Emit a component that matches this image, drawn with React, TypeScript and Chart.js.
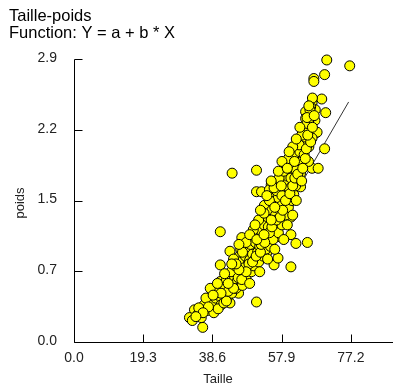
import React, { useEffect, useRef } from "react";
import { Chart, registerables } from "chart.js";

Chart.register(...registerables);

const titleLines = ["Taille-poids", "Function: Y = a + b * X"];
const xAxisTitle = "Taille";
const yAxisTitle = "poids";

const xTickValues = [0, 19.3, 38.6, 57.9, 77.2];
const xTickLabels = ["0.0", "19.3", "38.6", "57.9", "77.2"];
const yTickValues = [0, 0.725, 1.45, 2.175, 2.9];
const yTickLabels = ["0.0", "0.7", "1.5", "2.2", "2.9"];
const xMin = 0;
const xMax = 87.3;
const yMin = 0;
const yMax = 2.9;

const taille = [
  70.5, 76.9, 66.9, 66.9, 69.9, 69.1, 66.4, 67.3, 64.6, 70.2, 66.0, 64.6, 67.2, 64.1, 65.5, 67.3, 66.4, 67.8, 65.5, 69.9,
  61.9, 65.1, 66.4, 61.4, 59.6, 63.7, 66.4, 68.1, 60.5, 62.7, 65.4, 59.1, 57.2, 59.1, 61.3, 63.2, 44.1, 50.9, 55.0, 56.9,
  58.2, 61.3, 61.0, 63.2, 50.9, 52.3, 54.5, 52.8, 55.5, 58.2, 60.5, 53.1, 55.8, 55.5, 58.6, 59.9, 40.8, 50.9, 53.1, 56.4,
  57.2, 54.5, 60.5, 61.9, 65.1, 46.8, 49.5, 52.8, 53.7, 55.8, 56.9, 60.5, 43.5, 45.9, 47.3, 50.0, 48.6, 50.9, 40.8, 43.2,
  44.9, 47.3, 45.9, 41.8, 40.8, 40.4, 40.8, 43.5, 50.9, 38.1, 39.1, 36.3, 33.6, 34.5, 32.2, 35.9,
  38.5, 39.5, 41.2, 42.0, 42.8, 41.5, 43.5, 44.2, 42.5, 44.8, 45.5, 46.2, 43.8, 45.0, 46.8, 47.5, 48.2, 46.0, 47.8, 49.0,
  48.5, 49.8, 50.5, 51.2, 49.2, 50.6, 51.8, 52.5, 51.0, 52.2, 53.4, 54.0, 53.0, 54.2, 55.0, 55.6, 54.0, 55.2, 56.2, 56.8,
  57.5, 56.0, 57.0, 58.0, 58.8, 57.6, 56.5, 59.2, 60.0, 58.5, 59.5, 60.5, 61.0, 60.0, 62.0, 62.2, 61.5, 63.0, 63.8, 62.8,
  64.5, 65.0, 63.5, 66.0, 65.8, 44.0, 45.2, 47.0, 48.0, 49.5, 50.2, 51.5, 52.8, 53.5, 54.8, 55.5, 57.0, 58.0, 59.0, 59.8,
  60.8, 61.8, 62.5, 63.5, 64.2, 41.0, 39.8, 42.0, 44.5, 46.5, 48.0, 50.0, 51.5, 53.0, 54.5, 55.8, 57.2, 58.5, 59.8, 61.0,
  37.0, 35.5, 33.0, 34.8, 36.8, 38.0, 40.0,
  39.0, 40.2, 41.8, 42.5, 43.0, 44.5, 45.8, 46.8, 47.5, 48.8, 49.8, 50.8, 52.0, 52.2, 53.2, 54.5, 55.2, 56.5, 57.5, 58.2,
  58.0, 59.0, 60.2, 61.0, 61.6, 62.4, 63.8, 64.5, 64.8, 66.0, 65.2, 66.5, 63.0, 65.0, 67.0, 66.5, 65.5, 48.0, 46.0, 45.2,
  47.0, 49.0, 50.5, 52.0, 53.8, 55.0, 57.0, 58.0, 60.0, 62.0, 51.0, 53.0, 55.0, 56.0, 57.8, 59.5, 61.5, 43.0, 41.0, 38.8,
  37.5, 36.0, 34.0, 44.0, 46.0, 49.0, 51.8, 54.0, 56.0, 58.5, 59.5, 61.0, 62.0, 63.5,
];
const poids = [
  2.89, 2.83, 2.70, 2.67, 2.74, 2.49, 2.45, 2.38, 2.36, 2.35, 2.41, 2.29, 2.27, 2.19, 2.17, 2.14, 2.11, 2.15, 2.00, 1.98,
  1.97, 2.02, 2.09, 1.86, 1.81, 1.81, 1.78, 1.78, 1.85, 1.83, 1.85, 1.81, 1.66, 1.71, 1.73, 1.73, 1.73, 1.76, 1.61, 1.63,
  1.59, 1.51, 1.63, 1.59, 1.54, 1.54, 1.56, 1.27, 1.32, 1.28, 1.28, 1.40, 1.44, 1.48, 1.44, 1.49, 1.13, 1.17, 1.15, 1.15,
  1.08, 1.08, 1.10, 1.01, 1.02, 1.07, 1.05, 0.99, 0.91, 0.79, 0.86, 0.77, 0.93, 0.87, 0.81, 0.74, 0.87, 0.94, 0.79, 0.67,
  0.74, 0.62, 0.50, 0.53, 0.62, 0.48, 0.41, 0.40, 0.41, 0.42, 0.36, 0.38, 0.33, 0.28, 0.25, 0.15,
  0.40, 0.45, 0.44, 0.50, 0.46, 0.56, 0.55, 0.60, 0.63, 0.66, 0.62, 0.70, 0.72, 0.78, 0.75, 0.70, 0.78, 0.82, 0.88, 0.84,
  0.95, 0.90, 0.85, 0.92, 1.00, 1.02, 0.98, 1.05, 1.10, 1.14, 1.08, 1.02, 1.20, 1.18, 1.12, 1.22, 1.28, 1.35, 1.30, 1.22,
  1.35, 1.42, 1.48, 1.40, 1.52, 1.56, 1.55, 1.60, 1.58, 1.65, 1.70, 1.68, 1.78, 1.80, 1.76, 1.90, 1.92, 1.95, 2.05, 2.02,
  2.10, 2.24, 2.12, 2.30, 2.38, 0.50, 0.55, 0.58, 0.65, 0.72, 0.78, 0.82, 0.88, 0.95, 0.98, 1.05, 1.12, 1.20, 1.30, 1.38,
  1.45, 1.60, 1.68, 1.85, 1.92, 0.38, 0.52, 0.70, 0.85, 0.95, 1.02, 1.15, 1.25, 1.32, 1.45, 1.58, 1.68, 1.75, 1.88, 2.00,
  0.32, 0.25, 0.22, 0.35, 0.45, 0.55, 0.60,
  0.30, 0.34, 0.40, 0.42, 0.52, 0.55, 0.66, 0.64, 0.76, 0.80, 0.82, 0.88, 0.92, 1.00, 1.02, 1.12, 1.18, 1.25, 1.28, 1.35,
  1.50, 1.45, 1.52, 1.60, 1.68, 1.72, 1.78, 1.88, 1.98, 2.05, 2.12, 2.20, 2.20, 2.30, 2.32, 2.50, 2.42, 0.72, 0.74, 0.80,
  0.92, 1.10, 1.20, 1.35, 1.50, 1.65, 1.75, 1.85, 1.95, 2.08, 1.05, 1.10, 1.25, 1.38, 1.60, 1.78, 1.85, 0.60, 0.50, 0.48,
  0.36, 0.30, 0.26, 0.80, 1.00, 0.60, 0.72, 0.85, 0.95, 1.05, 1.20, 1.30, 1.45, 1.65,
];

const fitX = [48, 76.6];
const fitY = [0.65, 2.46];

const FONT = "'Liberation Sans', Arial, sans-serif";

const customAxes = {
  id: "customAxes",
  beforeDatasetsDraw(chart: any) {
    const ctx = chart.ctx;
    const xs = chart.scales.x;
    const ys = chart.scales.y;
    const x0 = Math.round(xs.getPixelForValue(xMin)) + 0.5;
    const y0 = Math.round(ys.getPixelForValue(yMin)) + 0.5;
    const yTop = Math.round(ys.getPixelForValue(yMax)) + 0.5;
    ctx.save();
    ctx.strokeStyle = "#000";
    ctx.lineWidth = 1;
    ctx.beginPath();
    ctx.moveTo(x0, yTop);
    ctx.lineTo(x0, y0);
    ctx.lineTo(chart.width, y0);
    yTickValues.forEach((v) => {
      const py = Math.round(ys.getPixelForValue(v)) + 0.5;
      ctx.moveTo(x0, py);
      ctx.lineTo(x0 + 8, py);
    });
    xTickValues.forEach((v) => {
      const px = Math.round(xs.getPixelForValue(v)) + 0.5;
      ctx.moveTo(px, y0);
      ctx.lineTo(px, y0 - 8);
    });
    ctx.stroke();
    ctx.restore();
  },
  afterDraw(chart: any) {
    const ctx = chart.ctx;
    const xs = chart.scales.x;
    const ys = chart.scales.y;
    ctx.save();
    ctx.fillStyle = "#000";
    ctx.font = `16.5px ${FONT}`;
    ctx.textAlign = "left";
    ctx.textBaseline = "alphabetic";
    ctx.fillText(titleLines[0], 9, 21);
    ctx.fillText(titleLines[1], 9, 38);
    ctx.fillStyle = "#222";
    ctx.font = `14px ${FONT}`;
    ctx.textAlign = "right";
    ctx.textBaseline = "middle";
    yTickValues.forEach((v, i) => {
      ctx.fillText(yTickLabels[i], 57, ys.getPixelForValue(v) - 1);
    });
    ctx.textAlign = "center";
    xTickValues.forEach((v, i) => {
      ctx.fillText(xTickLabels[i], xs.getPixelForValue(v), 358);
    });
    ctx.font = `13px ${FONT}`;
    ctx.fillText(xAxisTitle, 218, 379);
    ctx.translate(20, 203);
    ctx.rotate(-Math.PI / 2);
    ctx.fillText(yAxisTitle, 0, 0);
    ctx.restore();
  },
};

export default function App() {
  const ref = useRef<HTMLCanvasElement>(null);
  useEffect(() => {
    document.body.style.margin = "0";
    const canvas = ref.current;
    if (!canvas) return;
    const points = taille.map((x, i) => ({ x, y: poids[i] }));
    const fit = fitX.map((x, i) => ({ x, y: fitY[i] }));
    const chart = new Chart(canvas, {
      type: "scatter",
      data: {
        datasets: [
          {
            data: points,
            backgroundColor: "#FFFF00",
            borderColor: "#000",
            borderWidth: 1,
            pointRadius: 5,
            order: 1,
            clip: false,
          } as any,
          {
            type: "line",
            data: fit,
            borderColor: "#333",
            borderWidth: 1,
            pointRadius: 0,
            fill: false,
            order: 2,
          } as any,
        ],
      },
      options: {
        animation: false,
        responsive: false,
        events: [],
        layout: { padding: { left: 74, top: 59, right: 0, bottom: 43 } },
        plugins: { legend: { display: false }, tooltip: { enabled: false }, title: { display: false } },
        scales: {
          x: { type: "linear", min: xMin, max: xMax, display: false },
          y: { type: "linear", min: yMin, max: yMax, display: false },
        },
      },
      plugins: [customAxes],
    });
    return () => chart.destroy();
  }, []);
  return (
    <div style={{ width: 393, height: 385, background: "#fff" }}>
      <canvas ref={ref} width={393} height={385} style={{ display: "block" }} />
    </div>
  );
}
